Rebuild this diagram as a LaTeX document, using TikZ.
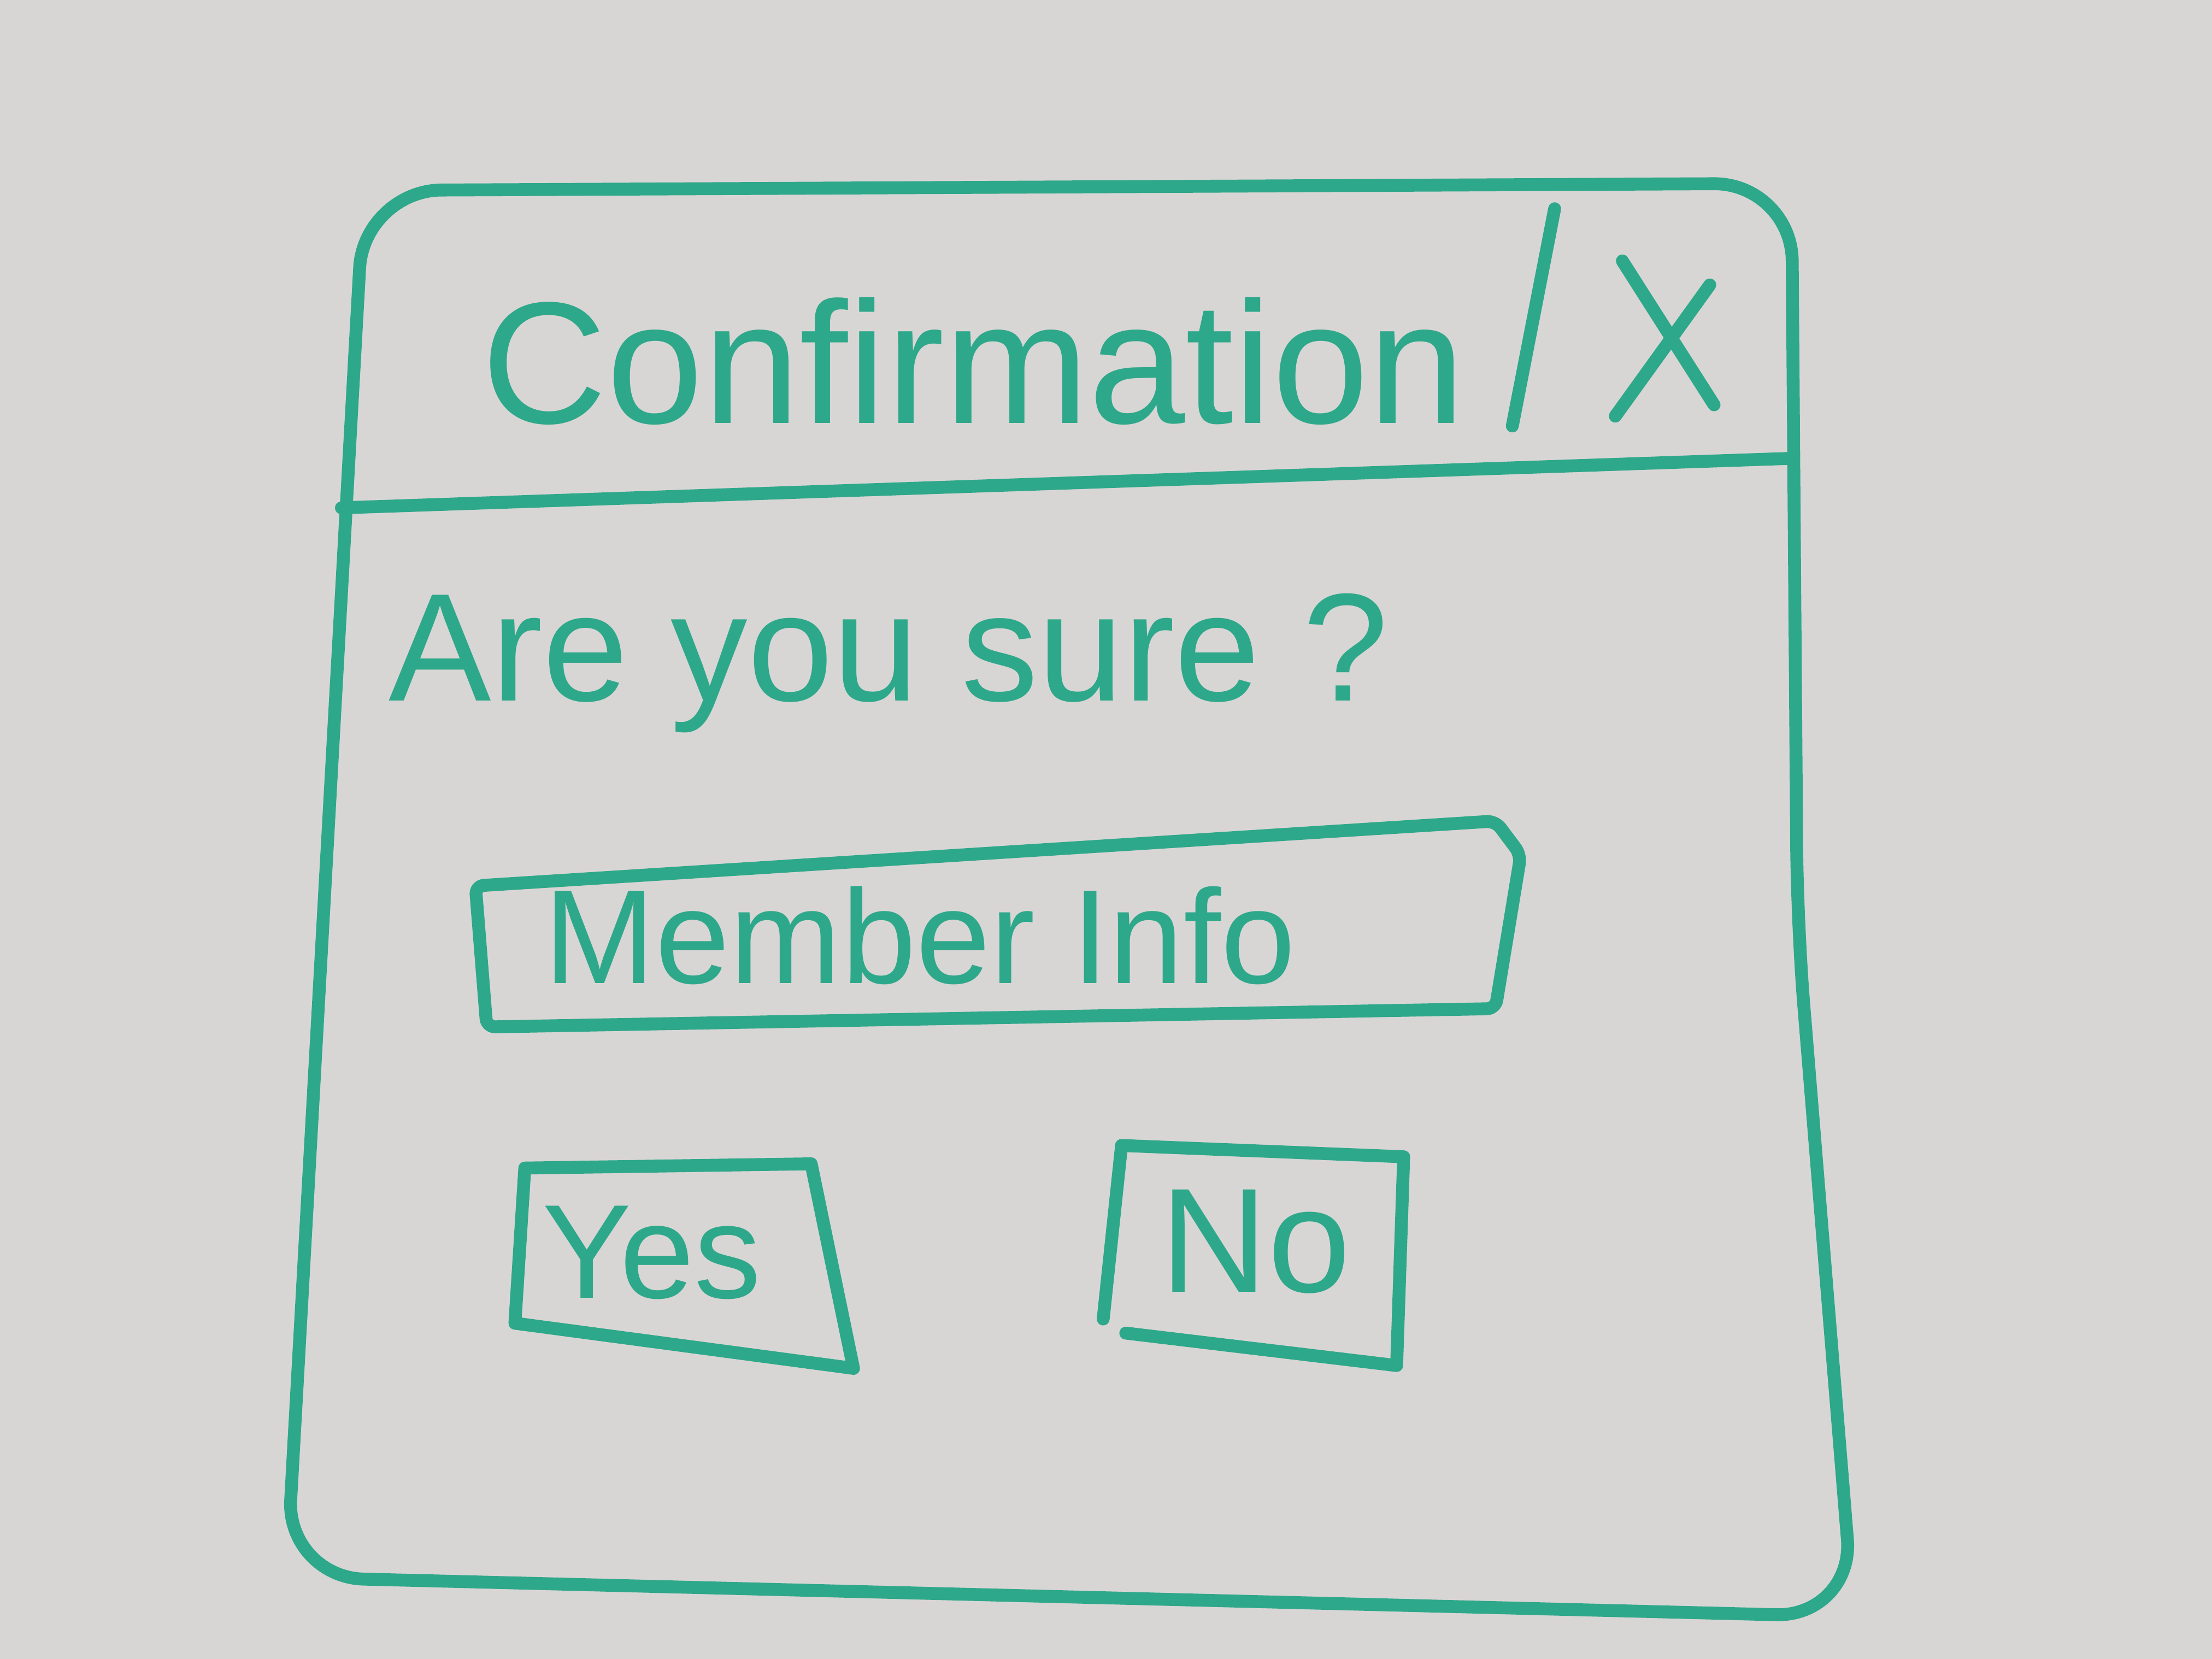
\documentclass[tikz,border=0pt]{standalone}
\usepackage{fontspec}
\setmainfont{Liberation Sans}
\usepackage{tikz}

\definecolor{board}{RGB}{216,214,212}
\definecolor{pen}{RGB}{46,168,138}

\begin{document}
\begin{tikzpicture}[
    marker/.style={draw=pen, line width=2.6pt, line cap=round, line join=round},
    pentext/.style={text=pen, inner sep=0pt}
  ]
            % whiteboard
            \fill[board] (0,0) rectangle (15.68,11.76);
            \useasboundingbox (0,0) rectangle (15.68,11.76);

            % dialog window
            \draw[marker, rounded corners=0.55cm] (2.58,10.41) -- (12.70,10.46) -- (12.74,5.20) -- (13.14,0.30) -- (2.03,0.58) -- cycle;
            \draw[marker] (2.42,8.16) -- (12.68,8.51);

            % title bar
            \node[pentext, font=\fontsize{35}{40}\selectfont] (title) at (6.90,9.20) {Confirmation};
            \draw[marker] (11.02,10.28) -- (10.72,8.74);
            \draw[marker] (11.50,9.91) -- (12.15,8.89);
            \draw[marker] (12.12,9.74) -- (11.45,8.81);

            % question
            \node[pentext, font=\fontsize{31}{36}\selectfont] (question) at (6.30,7.06) {Are you sure ?};

            % member info field
            \draw[marker, rounded corners=0.06cm] (3.37,5.48) -- (10.60,5.94) -- (10.78,5.70) -- (10.60,4.61) -- (3.45,4.48) -- cycle;
            \node[pentext, font=\fontsize{27}{32}\selectfont] (info) at (6.52,5.13) {Member Info};

            % buttons
            \draw[marker] (3.72,3.48) -- (5.75,3.51) -- (6.05,2.06) -- (3.65,2.38) -- cycle;
            \node[pentext, font=\fontsize{27}{32}\selectfont] (yes) at (4.62,2.88) {Yes};
            \draw[marker] (7.95,3.64) -- (9.95,3.56) -- (9.90,2.08) -- (7.98,2.31);
            \draw[marker] (7.95,3.64) -- (7.82,2.41);
            \node[pentext, font=\fontsize{30}{34}\selectfont] (no) at (8.90,2.96) {No};
        \end{tikzpicture}
\end{document}
